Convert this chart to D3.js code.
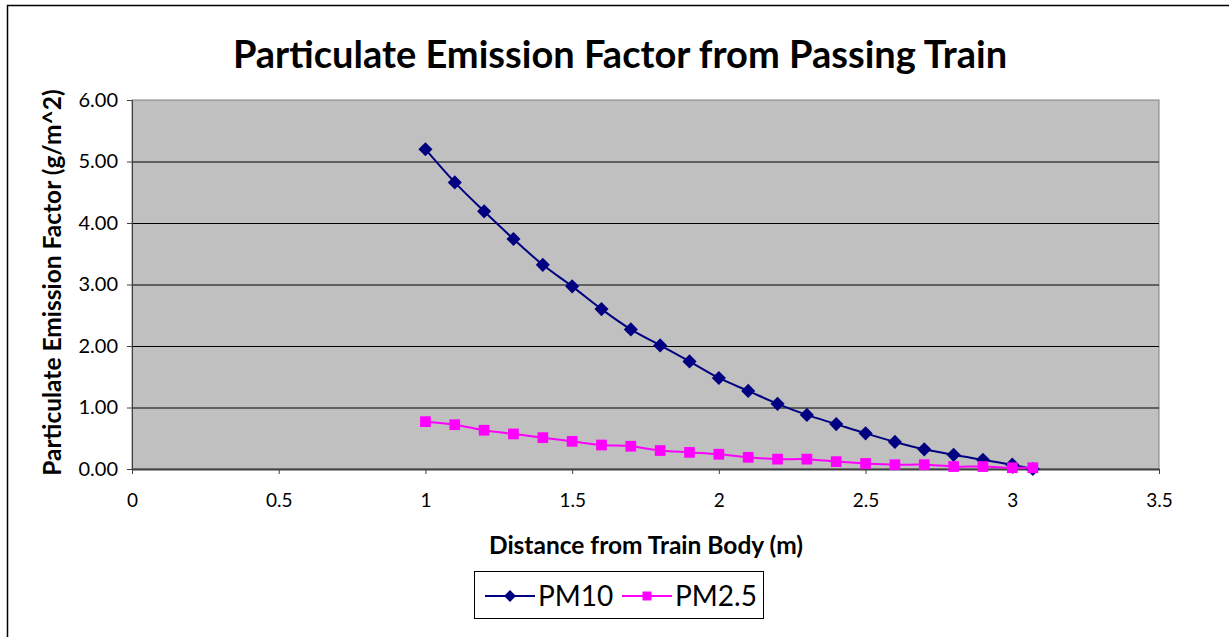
<!DOCTYPE html>
<html>
<head>
<meta charset="utf-8">
<script src="https://cdn.jsdelivr.net/npm/d3@7"></script>
<style>
    body { margin: 0; background: #ffffff; }
    svg { display: block; }
    text { font-family: Lato, 'Open Sans', sans-serif; fill: #000000; }
    .title { font-size: 38px; font-weight: bold; }
    .label { font-size: 24.5px; font-weight: bold; }
    .legend text { font-size: 28px; }
</style>
</head>
<body>
<svg width="1229" height="637"></svg>
<script>
const distance = [1.0, 1.1, 1.2, 1.3, 1.4, 1.5, 1.6, 1.7, 1.8, 1.9, 2.0,
    2.1, 2.2, 2.3, 2.4, 2.5, 2.6, 2.7, 2.8, 2.9, 3.0, 3.07];
const pm10 = [5.20, 4.66, 4.19, 3.74, 3.32, 2.97, 2.60, 2.27, 2.01, 1.75, 1.48,
    1.27, 1.06, 0.88, 0.73, 0.58, 0.44, 0.32, 0.23, 0.15, 0.07, 0.00];
const pm25 = [0.77, 0.72, 0.63, 0.57, 0.51, 0.45, 0.39, 0.37, 0.30, 0.27, 0.24,
    0.19, 0.16, 0.16, 0.12, 0.09, 0.07, 0.07, 0.04, 0.04, 0.02, 0.02];
const xTicks = [0, 0.5, 1, 1.5, 2, 2.5, 3, 3.5];
const yTicks = [0, 1, 2, 3, 4, 5, 6];

// diamond = square turned 45 degrees, like the Excel marker
const series = [
    { name: 'PM10', values: pm10, color: '#000080', rotate: 45, size: 100 },
    { name: 'PM2.5', values: pm25, color: '#ff00ff', rotate: 0, size: 115 }
];

const svg = d3.select('svg');

const plotLeft = 132, plotRight = 1159, plotTop = 100, plotBottom = 469;
const width = plotRight - plotLeft;
const height = plotBottom - plotTop;

// outer chart border (only top and left visible in the frame)
svg.append('rect')
    .attr('x', 7.5)
    .attr('y', 5.5)
    .attr('width', 1300)
    .attr('height', 700)
    .attr('fill', '#ffffff')
    .attr('stroke', '#000000')
    .attr('stroke-width', 1.5);

const xScale = d3.scaleLinear()
    .range([0, width])
    .domain([0, 3.5]);

const yScale = d3.scaleLinear()
    .range([height, 0])
    .domain([0, 6]);

const chart = svg.append('g')
    .attr('transform', `translate(${plotLeft}, ${plotTop})`);

chart.append('rect')
    .attr('width', width)
    .attr('height', height)
    .attr('fill', '#c0c0c0')
    .attr('stroke', '#808080')
    .attr('stroke-width', 1);

// horizontal grid lines
chart.append('g')
    .attr('class', 'grid')
    .call(d3.axisLeft(yScale)
        .tickValues(yTicks.slice(1, -1))
        .tickSize(-width)
        .tickFormat('')
    )
    .call(g => g.select('.domain').remove())
    .call(g => g.selectAll('line').attr('stroke', '#000000'));

chart.append('g')
    .call(d3.axisLeft(yScale)
        .tickValues(yTicks)
        .tickSize(5)
        .tickPadding(9)
        .tickFormat(d3.format('.2f'))
    )
    .call(g => g.selectAll('text').style('font-size', '20px'))
    .call(g => g.select('.domain').attr('stroke', '#404040'))
    .call(g => g.selectAll('.tick line').attr('stroke', '#404040'));

chart.append('g')
    .attr('transform', `translate(0, ${height})`)
    .call(d3.axisBottom(xScale)
        .tickValues(xTicks)
        .tickSize(5)
        .tickSizeOuter(0)
        .tickPadding(20)
        .tickFormat(d3.format('~g'))
    )
    .call(g => g.selectAll('text').style('font-size', '19px'))
    .call(g => g.select('.domain').attr('stroke', '#404040').attr('stroke-width', 2))
    .call(g => g.selectAll('.tick line').attr('stroke', '#404040'));

const line = (values) => d3.line()
    .x((d, i) => xScale(distance[i]))
    .y((d) => yScale(d))
    .curve(d3.curveCatmullRom)(values);

series.forEach((s) => {
    chart.append('path')
        .attr('d', line(s.values))
        .attr('fill', 'none')
        .attr('stroke', s.color)
        .attr('stroke-width', 2);

    chart.append('g')
        .selectAll('path')
        .data(s.values)
        .enter()
        .append('path')
        .attr('transform', (d, i) => `translate(${xScale(distance[i])}, ${yScale(d)}) rotate(${s.rotate})`)
        .attr('d', d3.symbol().type(d3.symbolSquare).size(s.size))
        .attr('fill', s.color);
});

svg.append('text')
    .attr('class', 'title')
    .attr('x', 620)
    .attr('y', 68)
    .attr('text-anchor', 'middle')
    .text('Particulate Emission Factor from Passing Train');

svg.append('text')
    .attr('class', 'label')
    .attr('x', -(plotTop + height / 2) + 2)
    .attr('y', 61)
    .attr('transform', 'rotate(-90)')
    .attr('text-anchor', 'middle')
    .text('Particulate Emission Factor (g/m^2)');

svg.append('text')
    .attr('class', 'label')
    .attr('x', 646)
    .attr('y', 554)
    .attr('text-anchor', 'middle')
    .text('Distance from Train Body (m)');

// legend
const legend = svg.append('g')
    .attr('class', 'legend')
    .attr('transform', 'translate(474, 571)');

legend.append('rect')
    .attr('x', 0.5)
    .attr('y', 0.5)
    .attr('width', 289)
    .attr('height', 47)
    .attr('fill', '#ffffff')
    .attr('stroke', '#000000');

const itemX = [11, 148];
series.forEach((s, i) => {
    const g = legend.append('g')
        .attr('transform', `translate(${itemX[i]}, 25)`);
    g.append('line')
        .attr('x1', 0)
        .attr('x2', 50)
        .attr('stroke', s.color)
        .attr('stroke-width', 2);
    g.append('path')
        .attr('transform', `translate(25, 0) rotate(${s.rotate})`)
        .attr('d', d3.symbol().type(d3.symbolSquare).size(s.size * 0.7))
        .attr('fill', s.color);
    g.append('text')
        .attr('x', 53)
        .attr('y', 10)
        .text(s.name);
});
</script>
</body>
</html>
